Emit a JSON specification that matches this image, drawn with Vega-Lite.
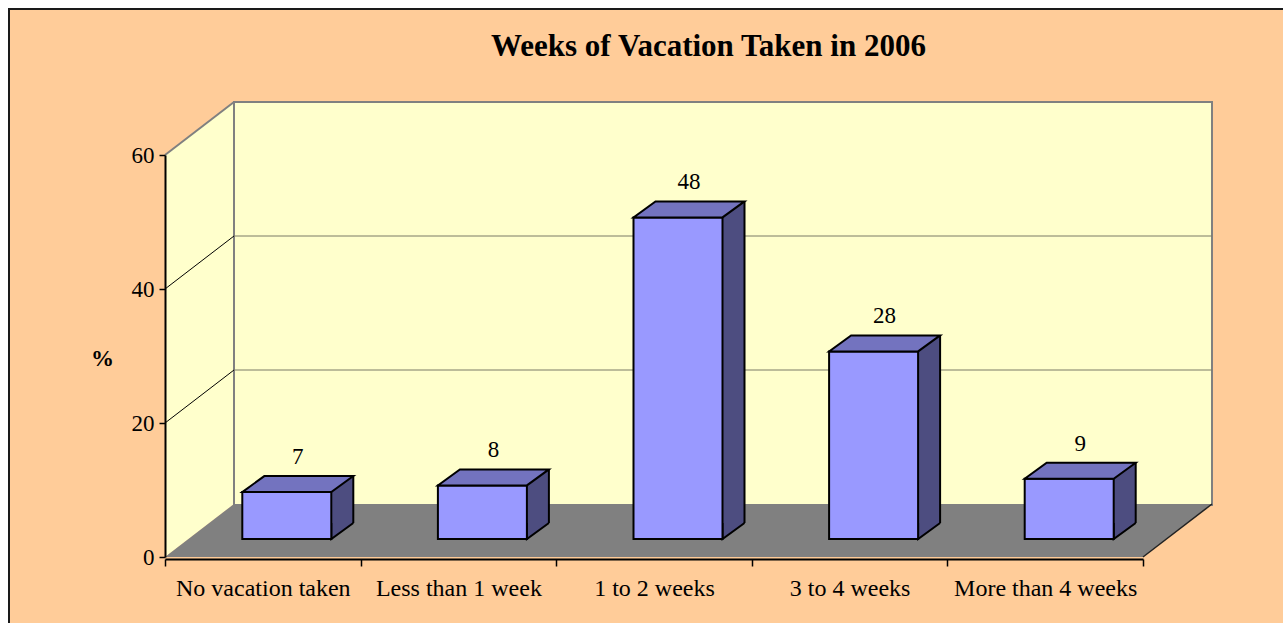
{
  "$schema": "https://vega.github.io/schema/vega-lite/v6.json",
  "width": 1276,
  "height": 616,
  "autosize": {"type": "none"},
  "padding": {"left": 9, "top": 9, "right": -2, "bottom": -2},
  "background": "#ffffff",
  "title": {
    "text": "Weeks of Vacation Taken in 2006",
    "anchor": "start",
    "frame": "group",
    "dx": 482,
    "offset": -78,
    "baseline": "alphabetic",
    "font": "Liberation Serif",
    "fontSize": 31,
    "fontWeight": "bold",
    "color": "#000000"
  },
  "datasets": {
    "vacation": [
      {"category": "No vacation taken", "percent": 7},
      {"category": "Less than 1 week", "percent": 8},
      {"category": "1 to 2 weeks", "percent": 48},
      {"category": "3 to 4 weeks", "percent": 28},
      {"category": "More than 4 weeks", "percent": 9}
    ],
    "gridTicks": [{"tick": 20}, {"tick": 40}, {"tick": 60}],
    "frame": [{"part": "walls"}]
  },
  "layer": [
    {
      "data": {"name": "frame"},
      "layer": [
        {
          "mark": {"type": "point", "shape": "M0 0 L0 -402 L69 -455 L69 -53 Z", "size": 4, "filled": true, "fill": "#FFFFCC", "strokeWidth": 0, "opacity": 1},
          "encoding": {
            "x": {"datum": 0, "type": "quantitative", "scale": {"domain": [0, 1], "range": [156, 1134]}, "axis": null},
            "y": {"datum": 0, "type": "quantitative", "scale": {"domain": [0, 60], "range": [548, 146], "nice": false}}
          }
        },
        {
          "mark": {"type": "rect", "fill": "#FFFFCC", "stroke": "#808080", "strokeWidth": 2, "xOffset": 69, "x2Offset": 69, "yOffset": -53, "y2Offset": -52},
          "encoding": {
            "x": {"datum": 0, "type": "quantitative", "axis": null},
            "x2": {"datum": 1},
            "y": {"datum": 60, "type": "quantitative"},
            "y2": {"datum": 0}
          }
        },
        {
          "data": {"name": "gridTicks"},
          "transform": [{"filter": "datum.tick < 60"}],
          "mark": {"type": "rule", "stroke": "#000000", "strokeWidth": 1, "x2Offset": 69, "y2Offset": -53},
          "encoding": {
            "x": {"datum": 0, "type": "quantitative", "axis": null},
            "x2": {"datum": 0},
            "y": {"field": "tick", "type": "quantitative"},
            "y2": {"field": "tick"}
          }
        },
        {
          "data": {"name": "gridTicks"},
          "transform": [{"filter": "datum.tick == 60"}],
          "mark": {"type": "rule", "stroke": "#808080", "strokeWidth": 2, "x2Offset": 69, "y2Offset": -53},
          "encoding": {
            "x": {"datum": 0, "type": "quantitative", "axis": null},
            "x2": {"datum": 0},
            "y": {"field": "tick", "type": "quantitative"},
            "y2": {"field": "tick"}
          }
        },
        {
          "data": {"name": "gridTicks"},
          "transform": [{"filter": "datum.tick < 60"}],
          "mark": {"type": "rule", "stroke": "#7a7a66", "strokeWidth": 1, "xOffset": 69, "x2Offset": 69, "yOffset": -53},
          "encoding": {
            "x": {"datum": 0, "type": "quantitative", "axis": null},
            "x2": {"datum": 1},
            "y": {"field": "tick", "type": "quantitative"}
          }
        },
        {
          "mark": {"type": "point", "shape": "M0 0 L978 0 L1047 -53 L69 -53 Z", "size": 4, "filled": true, "fill": "#808080", "strokeWidth": 0, "opacity": 1},
          "encoding": {
            "x": {"datum": 0, "type": "quantitative", "axis": null},
            "y": {"datum": 0, "type": "quantitative"}
          }
        },
        {
          "mark": {"type": "rule", "stroke": "#222222", "strokeWidth": 1.5, "x2Offset": 69, "y2Offset": -53},
          "encoding": {
            "x": {"datum": 1, "type": "quantitative", "axis": null},
            "x2": {"datum": 1},
            "y": {"datum": 0, "type": "quantitative"},
            "y2": {"datum": 0}
          }
        }
      ]
    },
    {
      "data": {"name": "vacation"},
      "encoding": {
        "x": {
          "field": "category", "type": "nominal", "sort": null,
          "scale": {"range": [156, 1134], "paddingInner": 0, "paddingOuter": 0},
          "axis": {
            "orient": "bottom", "offset": -66, "zindex": 1, "tickBand": "extent", "title": null,
            "labelAngle": 0, "labelFont": "Liberation Serif", "labelFontSize": 24, "labelColor": "#000000",
            "labelPadding": 10, "labelLimit": 400, "labelOverlap": false,
            "domainColor": "#000000", "domainWidth": 2, "tickColor": "#000000", "tickWidth": 1.5, "tickSize": 7, "grid": false
          }
        }
      },
      "layer": [
        {
          "mark": {"type": "bar", "width": 22, "xOffset": 79.5, "yOffset": -34, "y2Offset": -34, "fill": "#4D4D80", "strokeWidth": 0},
          "encoding": {
            "y": {"field": "percent", "type": "quantitative"},
            "y2": {"datum": 0}
          }
        },
        {
          "mark": {"type": "point", "shape": "M68.5 -34 L68.5 -18 L90.5 -34", "size": 4, "filled": true, "fill": "#4D4D80", "stroke": "#000000", "strokeWidth": 2, "opacity": 1},
          "encoding": {
            "y": {"datum": 0, "type": "quantitative"}
          }
        },
        {
          "mark": {"type": "rule", "stroke": "#000000", "strokeWidth": 2, "xOffset": 90.5, "yOffset": -34, "y2Offset": -34},
          "encoding": {
            "y": {"field": "percent", "type": "quantitative"},
            "y2": {"datum": 0}
          }
        },
        {
          "mark": {"type": "bar", "width": 89, "xOffset": 24, "yOffset": -18, "y2Offset": -18, "fill": "#9999FF", "stroke": "#000000", "strokeWidth": 2},
          "encoding": {
            "y": {
              "field": "percent", "type": "quantitative",
              "scale": {"domain": [0, 60], "range": [548, 146], "nice": false},
              "axis": {
                "orient": "left", "offset": -156, "zindex": 1, "values": [0, 20, 40, 60], "grid": false,
                "domainColor": "#000000", "domainWidth": 2, "tickColor": "#000000", "tickWidth": 1.5, "tickSize": 6,
                "labelFont": "Liberation Serif", "labelFontSize": 23, "labelColor": "#000000", "labelPadding": 5,
                "title": "%", "titleFont": "Liberation Serif", "titleFontSize": 23, "titleFontWeight": "bold", "titleColor": "#000000",
                "titleAngle": 0, "titleX": -63, "titleY": 349, "titleAlign": "center", "titleBaseline": "middle"
              }
            },
            "y2": {"datum": 0}
          }
        },
        {
          "mark": {"type": "point", "shape": "M-20.5 -18 L68.5 -18 L90.5 -34 L1.5 -34 Z", "size": 4, "filled": true, "fill": "#7373BF", "stroke": "#000000", "strokeWidth": 2, "opacity": 1},
          "encoding": {
            "y": {"field": "percent", "type": "quantitative"}
          }
        },
        {
          "mark": {"type": "text", "xOffset": 35, "yOffset": -46, "baseline": "alphabetic", "align": "center", "font": "Liberation Serif", "fontSize": 23, "fill": "#000000"},
          "encoding": {
            "y": {"field": "percent", "type": "quantitative"},
            "text": {"field": "percent", "type": "quantitative"}
          }
        }
      ]
    }
  ],
  "resolve": {"scale": {"x": "independent"}},
  "config": {
    "view": {"fill": "#FFCC99", "stroke": "#1a1a1a", "strokeWidth": 2},
    "font": "Liberation Serif"
  }
}
